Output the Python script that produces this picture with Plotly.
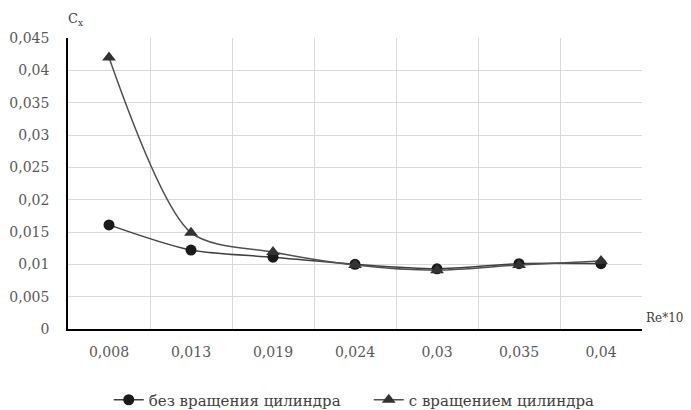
import plotly.graph_objects as go

categories = ["0,008", "0,013", "0,019", "0,024", "0,03", "0,035", "0,04"]
no_rotation = [0.0161, 0.0122, 0.0111, 0.0100, 0.0093, 0.0101, 0.0101]
with_rotation = [0.0420, 0.0149, 0.0119, 0.0099, 0.0091, 0.0099, 0.0105]
y_ticks = [0, 0.005, 0.01, 0.015, 0.02, 0.025, 0.03, 0.035, 0.04, 0.045]
y_tick_labels = ["0", "0,005", "0,01", "0,015", "0,02", "0,025", "0,03", "0,035", "0,04", "0,045"]

font = "DejaVu Serif"
grey = "#595959"

fig = go.Figure()
fig.add_trace(go.Scatter(
    x=categories, y=no_rotation, name="без вращения цилиндра",
    mode="lines+markers", line=dict(color="#404040", width=1.5, shape="spline", smoothing=0.8),
    marker=dict(symbol="circle", size=11, color="#1a1a1a")))
fig.add_trace(go.Scatter(
    x=categories, y=with_rotation, name="с вращением цилиндра",
    mode="lines+markers", line=dict(color="#505050", width=1.5, shape="spline", smoothing=0.8),
    marker=dict(symbol="triangle-up", size=12, color="#333333")))

fig.update_layout(
    width=691, height=410,
    margin=dict(l=60, r=57, t=30, b=89, autoexpand=False),
    plot_bgcolor="white", paper_bgcolor="white",
    font=dict(family=font, color=grey, size=14),
    showlegend=True,
    legend=dict(orientation="h", x=0.071, xanchor="left", y=-0.244, yanchor="middle",
                font=dict(family=font, size=15, color="#404040"),
                entrywidth=215, entrywidthmode="pixels", itemwidth=30),
    xaxis=dict(type="category", range=[-0.5, 6.5], tickson="boundaries",
               showgrid=True, gridcolor="#d9d9d9", gridwidth=1,
               showline=True, linecolor="black", linewidth=1.5,
               ticks="", ticklabelstandoff=9, tickfont=dict(family=font, size=14, color=grey)),
    yaxis=dict(range=[0, 0.045], tickvals=y_ticks, ticktext=y_tick_labels,
               showgrid=True, gridcolor="#d9d9d9", gridwidth=1,
               showline=True, linecolor="black", linewidth=1.5, zeroline=False,
               ticks="", ticklabelstandoff=14, tickfont=dict(family=font, size=14, color=grey)),
    annotations=[
        dict(text="C<sub>x</sub>", xref="paper", yref="paper", x=0, y=1, xshift=-2, yshift=8,
             xanchor="left", yanchor="bottom", showarrow=False,
             font=dict(family=font, size=13, color="#404040")),
        dict(text="Re*10<sup>6</sup>", xref="paper", yref="paper", x=1, y=0, xshift=2, yshift=2,
             xanchor="left", yanchor="bottom", showarrow=False,
             font=dict(family=font, size=12, color="#404040")),
    ],
)

fig.write_html("out.html")
